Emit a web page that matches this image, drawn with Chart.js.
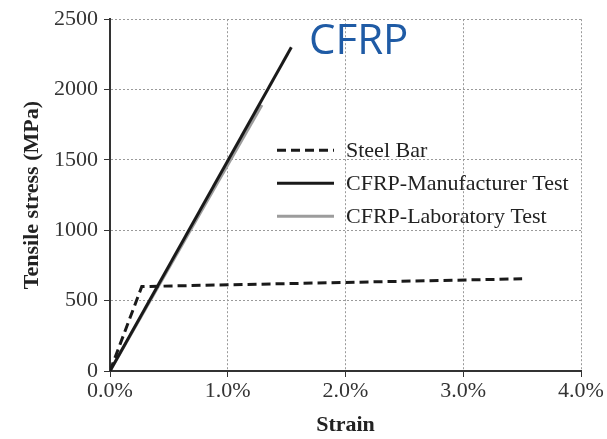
<!DOCTYPE html>
<html>
<head>
<meta charset="utf-8">
<script src="https://cdn.jsdelivr.net/npm/chart.js@4/dist/chart.umd.min.js"></script>
<style>
  html, body { margin: 0; padding: 0; background: #fff; }
  #wrap { position: relative; width: 607px; height: 439px; }
  #badge {
    position: absolute; left: 309px; top: 17px;
    font-family: 'Open Sans', sans-serif; font-size: 42px; color: #1f5ba5;
    line-height: 1;
  }
</style>
</head>
<body>
<div id="wrap">
  <canvas id="chart" width="607" height="439"></canvas>
  <div id="badge">CFRP</div>
</div>
<script>
/* data */
const steelStrain = [0, 0.27, 3.5];
const steelStress = [0, 600, 655];
const mfrStrain = [0, 1.54];
const mfrStress = [0, 2300];
const labStrain = [0, 1.29];
const labStress = [0, 1890];

const strainTicks = [0, 1, 2, 3, 4];
const stressTicks = [0, 500, 1000, 1500, 2000, 2500];

const SERIF = "'Liberation Serif', 'Times New Roman', serif";

function toPoints(xs, ys) {
  return xs.map((x, i) => ({ x, y: ys[i] }));
}

// legend drawn inside the plot, like the figure
const innerLegend = {
  id: 'innerLegend',
  afterDatasetsDraw(chart) {
    const ctx = chart.ctx;
    const area = chart.chartArea;
    const x0 = area.left + 167;
    const y0 = area.top + 131;
    ctx.save();
    ctx.font = '22px ' + SERIF;
    ctx.textBaseline = 'middle';
    ctx.fillStyle = '#222';
    chart.data.datasets.forEach((ds, i) => {
      const y = y0 + i * 33;
      ctx.strokeStyle = ds.borderColor;
      ctx.lineWidth = ds.borderWidth;
      ctx.setLineDash(ds.borderDash || []);
      ctx.beginPath();
      ctx.moveTo(x0, y);
      ctx.lineTo(x0 + 57, y);
      ctx.stroke();
      ctx.fillText(ds.label, x0 + 69, y + 1);
    });
    ctx.restore();
  },
};

new Chart(document.getElementById('chart'), {
  type: 'scatter',
  data: {
    datasets: [
      {
        label: 'Steel Bar',
        data: toPoints(steelStrain, steelStress),
        borderColor: '#1a1a1a',
        borderWidth: 3,
        borderDash: [9, 5],
      },
      {
        label: 'CFRP-Manufacturer Test',
        data: toPoints(mfrStrain, mfrStress),
        borderColor: '#1a1a1a',
        borderWidth: 3,
      },
      {
        label: 'CFRP-Laboratory Test',
        data: toPoints(labStrain, labStress),
        borderColor: '#9c9c9c',
        borderWidth: 3,
      },
    ].map(ds => ({ ...ds, showLine: true, pointRadius: 0, tension: 0, fill: false })),
  },
  options: {
    responsive: false,
    animation: false,
    layout: { padding: { top: 15, right: 26, left: 0, bottom: 0 } },
    plugins: { legend: { display: false }, tooltip: { enabled: false } },
    scales: {
      x: {
        type: 'linear',
        min: 0,
        max: 4,
        afterBuildTicks: axis => { axis.ticks = strainTicks.map(v => ({ value: v })); },
        afterFit: axis => { axis.height = 68; },
        ticks: {
          color: '#333',
          padding: 1,
          font: { family: SERIF, size: 22 },
          callback: v => v.toFixed(1) + '%',
        },
        grid: { color: '#9a9a9a', lineWidth: 1, tickColor: '#333', tickLength: 6 },
        border: { color: '#333', width: 2, dash: [2, 2] },
        title: {
          display: true,
          text: 'Strain',
          color: '#222',
          font: { family: SERIF, size: 22, weight: 'bold' },
          padding: { top: 0, bottom: 0 },
        },
      },
      y: {
        min: 0,
        max: 2500,
        afterBuildTicks: axis => { axis.ticks = stressTicks.map(v => ({ value: v })); },
        afterFit: axis => { axis.width = 110; },
        ticks: {
          color: '#333',
          padding: 6,
          font: { family: SERIF, size: 22 },
          callback: v => String(v),
        },
        grid: { color: '#9a9a9a', lineWidth: 1, tickColor: '#333', tickLength: 6 },
        border: { color: '#333', width: 2, dash: [2, 2] },
        title: {
          display: true,
          text: 'Tensile stress (MPa)',
          color: '#222',
          font: { family: SERIF, size: 22, weight: 'bold' },
          padding: { top: 19, bottom: 0 },
        },
      },
    },
  },
  plugins: [innerLegend],
});
</script>
</body>
</html>
